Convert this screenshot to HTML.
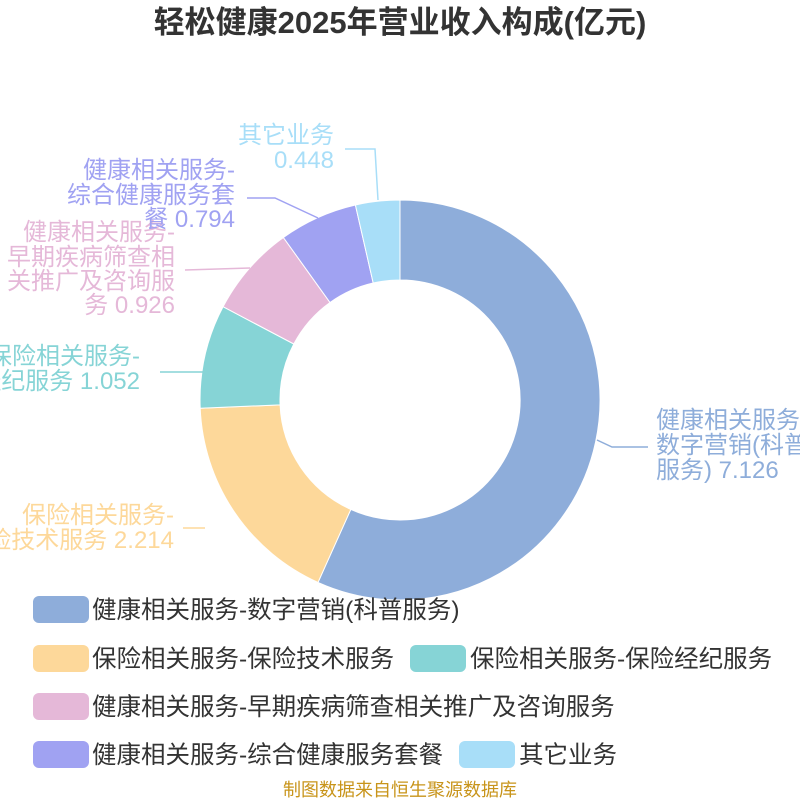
<!DOCTYPE html>
<html><head><meta charset="utf-8"><style>
html,body{margin:0;padding:0;background:#fff;}
svg text{font-family:"Liberation Sans","Noto Sans CJK SC",sans-serif;}
</style></head><body>
<svg width="800" height="800" viewBox="0 0 800 800" xmlns="http://www.w3.org/2000/svg">
<text x="400" y="33" text-anchor="middle" font-size="31" font-weight="bold" fill="#333">轻松健康2025年营业收入构成(亿元)</text>
<g stroke="#fff" stroke-width="1">
<path d="M400,200 A200,200 0 1 1 318,582.4 L350.8,509.4 A120,120 0 1 0 400,280 Z" fill="#8eadda"/>
<path d="M318,582.4 A200,200 0 0 1 200.2,408.2 L280.1,404.9 A120,120 0 0 0 350.8,509.4 Z" fill="#fdd89a"/>
<path d="M200.2,408.2 A200,200 0 0 1 223.1,306.7 L293.8,344 A120,120 0 0 0 280.1,404.9 Z" fill="#86d4d6"/>
<path d="M223.1,306.7 A200,200 0 0 1 283.4,237.5 L330,302.5 A120,120 0 0 0 293.8,344 Z" fill="#e5b8d8"/>
<path d="M283.4,237.5 A200,200 0 0 1 355.4,205 L373.2,283 A120,120 0 0 0 330,302.5 Z" fill="#a0a2f2"/>
<path d="M355.4,205 A200,200 0 0 1 400,200 L400,280 A120,120 0 0 0 373.2,283 Z" fill="#a8def8"/>
</g>
<g fill="none" stroke-width="1.5">
<polyline points="597,440 612,447 648,447" stroke="#8eadda"/>
<polyline points="205,528 183,528" stroke="#fdd89a"/>
<polyline points="203,372 185,372 160,372" stroke="#86d4d6"/>
<polyline points="250,268 185,270" stroke="#e5b8d8"/>
<polyline points="318,218 275,198 247,198" stroke="#a0a2f2"/>
<polyline points="378,200 375,149 345,149" stroke="#a8def8"/>
</g>
<g font-size="24">
<g fill="#8eadda"><text x="656" y="428">健康相关服务-</text><text x="656" y="453">数字营销(科普</text><text x="656" y="478">服务) 7.126</text></g>
<g fill="#fdd89a" text-anchor="end"><text x="174" y="523">保险相关服务-</text><text x="174" y="548">保险技术服务 2.214</text></g>
<g fill="#86d4d6" text-anchor="end"><text x="140" y="364">保险相关服务-</text><text x="140" y="389">保险经纪服务 1.052</text></g>
<g fill="#e5b8d8" text-anchor="end"><text x="175" y="240">健康相关服务-</text><text x="175" y="265">早期疾病筛查相</text><text x="175" y="289">关推广及咨询服</text><text x="175" y="313">务 0.926</text></g>
<g fill="#a0a2f2" text-anchor="end"><text x="235" y="178">健康相关服务-</text><text x="235" y="203">综合健康服务套</text><text x="235" y="227">餐 0.794</text></g>
<g fill="#a8def8" text-anchor="end"><text x="334" y="143">其它业务</text><text x="334" y="168">0.448</text></g>
</g>
<g font-size="24.5" fill="#333">
<rect x="33" y="596" width="56" height="27" rx="6" fill="#8eadda"/><text x="92" y="618">健康相关服务-数字营销(科普服务)</text>
<rect x="33" y="645" width="56" height="27" rx="6" fill="#fdd89a"/><text x="92" y="667">保险相关服务-保险技术服务</text>
<rect x="410" y="645" width="56" height="27" rx="6" fill="#86d4d6"/><text x="470" y="667">保险相关服务-保险经纪服务</text>
<rect x="33" y="693" width="56" height="27" rx="6" fill="#e5b8d8"/><text x="92" y="715">健康相关服务-早期疾病筛查相关推广及咨询服务</text>
<rect x="33" y="741" width="56" height="27" rx="6" fill="#a0a2f2"/><text x="92" y="763">健康相关服务-综合健康服务套餐</text>
<rect x="459" y="741" width="56" height="27" rx="6" fill="#a8def8"/><text x="519" y="763">其它业务</text>
</g>
<text x="400" y="796" text-anchor="middle" font-size="18" fill="#c8941a">制图数据来自恒生聚源数据库</text>
</svg>
</body></html>
